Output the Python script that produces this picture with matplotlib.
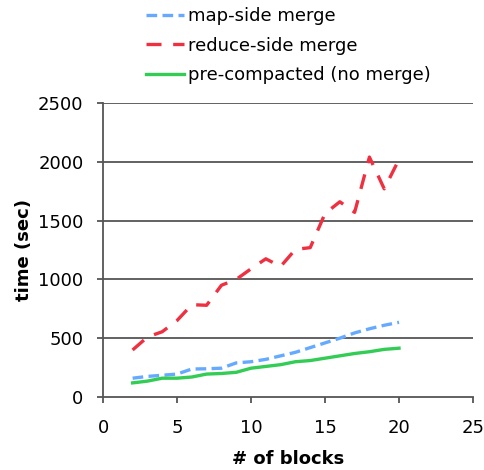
import numpy as np
import matplotlib
matplotlib.use('Agg')
from matplotlib import pyplot as plt

# number of blocks
blocks = [2, 3, 4, 5, 6, 7, 8, 9, 10, 11, 12, 13, 14, 15, 16, 17, 18, 19, 20]

# times in seconds
map_side = [160, 175, 185, 195, 238, 240, 245, 290, 300, 320, 350, 380, 420, 460, 500, 545, 580, 610, 635]
reduce_side = [400, 510, 555, 650, 785, 780, 950, 1000, 1090, 1175, 1110, 1255, 1270, 1560, 1660, 1570, 2040, 1770, 2020]
precompacted = [120, 135, 160, 160, 170, 195, 200, 210, 245, 260, 275, 300, 310, 330, 350, 370, 385, 405, 415]

labels = ['map-side merge', 'reduce-side merge', 'pre-compacted (no merge)']
xticks = [0, 5, 10, 15, 20, 25]
yticks = [0, 500, 1000, 1500, 2000, 2500]

plt.rcParams['font.family'] = 'DejaVu Sans'
fig = plt.figure(figsize=(4.85, 4.7), dpi=100)
ax = fig.add_axes([0.2124, 0.1553, 0.7629, 0.6256])

grid_col = '#555555'
for yv in yticks[1:]:
	ax.axhline(yv, color=grid_col, lw=1.3, zorder=1)

l1, = ax.plot(blocks, map_side, color='#66aaff', lw=2.4, dashes=(3.2, 1.6), zorder=3)
l2, = ax.plot(blocks, reduce_side, color='#ee3040', lw=2.4, dashes=(4.5, 3.5), zorder=3)
l3, = ax.plot(blocks, precompacted, color='#33cc55', lw=2.4, zorder=3)

ax.set_xlim(0, 25)
ax.set_ylim(0, 2500)
ax.set_xticks(xticks)
ax.set_yticks(yticks)
ax.tick_params(direction='out', length=4, width=1.3, color=grid_col, labelsize=13)
ax.tick_params(axis='y', pad=10)
ax.tick_params(axis='x', pad=12)
for s in ['top', 'right']:
	ax.spines[s].set_visible(False)
for s in ['left', 'bottom']:
	ax.spines[s].set_color(grid_col)
	ax.spines[s].set_linewidth(1.3)

ax.set_xlabel('# of blocks', fontsize=13, fontweight='bold', labelpad=9)
ax.set_ylabel('time (sec)', fontsize=13, fontweight='bold', labelpad=4)

fig.legend([l1, l2, l3], labels, loc='upper left', bbox_to_anchor=(0.268, 1.02),
	frameon=False, fontsize=13, handlelength=2.1, handletextpad=0.2, labelspacing=0.65)

fig.savefig('out.png', dpi=100)
